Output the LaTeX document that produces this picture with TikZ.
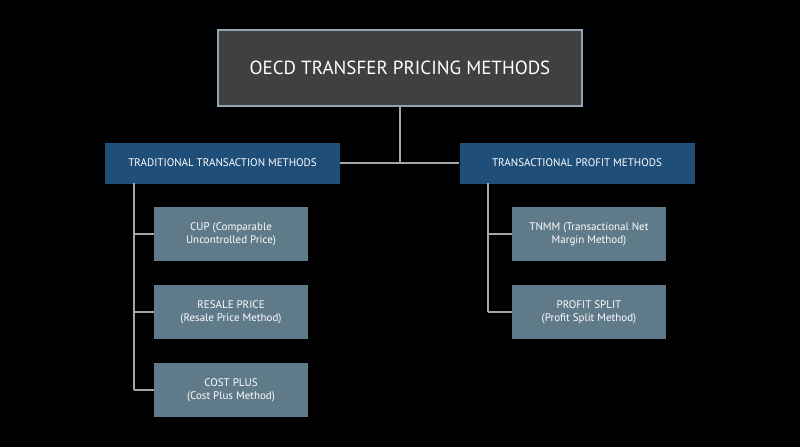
\documentclass[tikz,border=0pt]{standalone}
\usepackage{fontspec}
\setmainfont{PT Sans}
\definecolor{topfill}{HTML}{404040}
\definecolor{topline}{HTML}{8FA3B3}
\definecolor{headfill}{HTML}{1F4E79}
\definecolor{leaffill}{HTML}{5F7A88}
\definecolor{linkgray}{HTML}{A6A6A6}
\tikzset{
  topbox/.style={draw=topline, line width=1.5pt, fill=topfill, text=white,
    minimum width=364pt, minimum height=76pt, font=\fontsize{19}{22}\selectfont},
  headbox/.style={fill=headfill, text=white, minimum width=235pt,
    minimum height=41pt, font=\fontsize{11}{13}\selectfont},
  leafbox/.style={fill=leaffill, text=white, minimum width=154pt,
    minimum height=54pt, align=center, font=\fontsize{11}{13}\selectfont},
  link/.style={draw=linkgray, line width=1.6pt}
}
\begin{document}
\begin{tikzpicture}[x=1pt, y=-1pt]
\fill[black] (0,0) rectangle (800,447);
\useasboundingbox (0,0) rectangle (800,447);
\node[topbox] (top) at (400,68) {OECD TRANSFER PRICING METHODS};
\node[headbox] (trad) at (222.5,163) {TRADITIONAL TRANSACTION METHODS};
\node[headbox] (prof) at (577,163) {TRANSACTIONAL PROFIT METHODS};
\node[leafbox] (cup) at (231,234) {CUP (Comparable\\Uncontrolled Price)};
\node[leafbox] (rpm) at (231,312) {RESALE PRICE\\(Resale Price Method)};
\node[leafbox] (cpm) at (231,390) {COST PLUS\\(Cost Plus Method)};
\node[leafbox] (tnmm) at (589,234) {TNMM (Transactional Net\\Margin Method)};
\node[leafbox] (psm) at (589,312) {PROFIT SPLIT\\(Profit Split Method)};
\coordinate (mid) at (top.south |- trad.east);
\draw[link] (top.south) -- (mid);
\draw[link] (trad.east) -- (prof.west);
\coordinate (lt) at (134,183);
\coordinate (rt) at (488,183);
\draw[link] (lt) -- (lt |- cpm.west);
\draw[link] (rt) -- (rt |- psm.west);
\foreach \n in {cup,rpm,cpm}
  \draw[link] (lt |- \n.west) -- (\n.west);
\foreach \n in {tnmm,psm}
  \draw[link] (rt |- \n.west) -- (\n.west);
\end{tikzpicture}
\end{document}
